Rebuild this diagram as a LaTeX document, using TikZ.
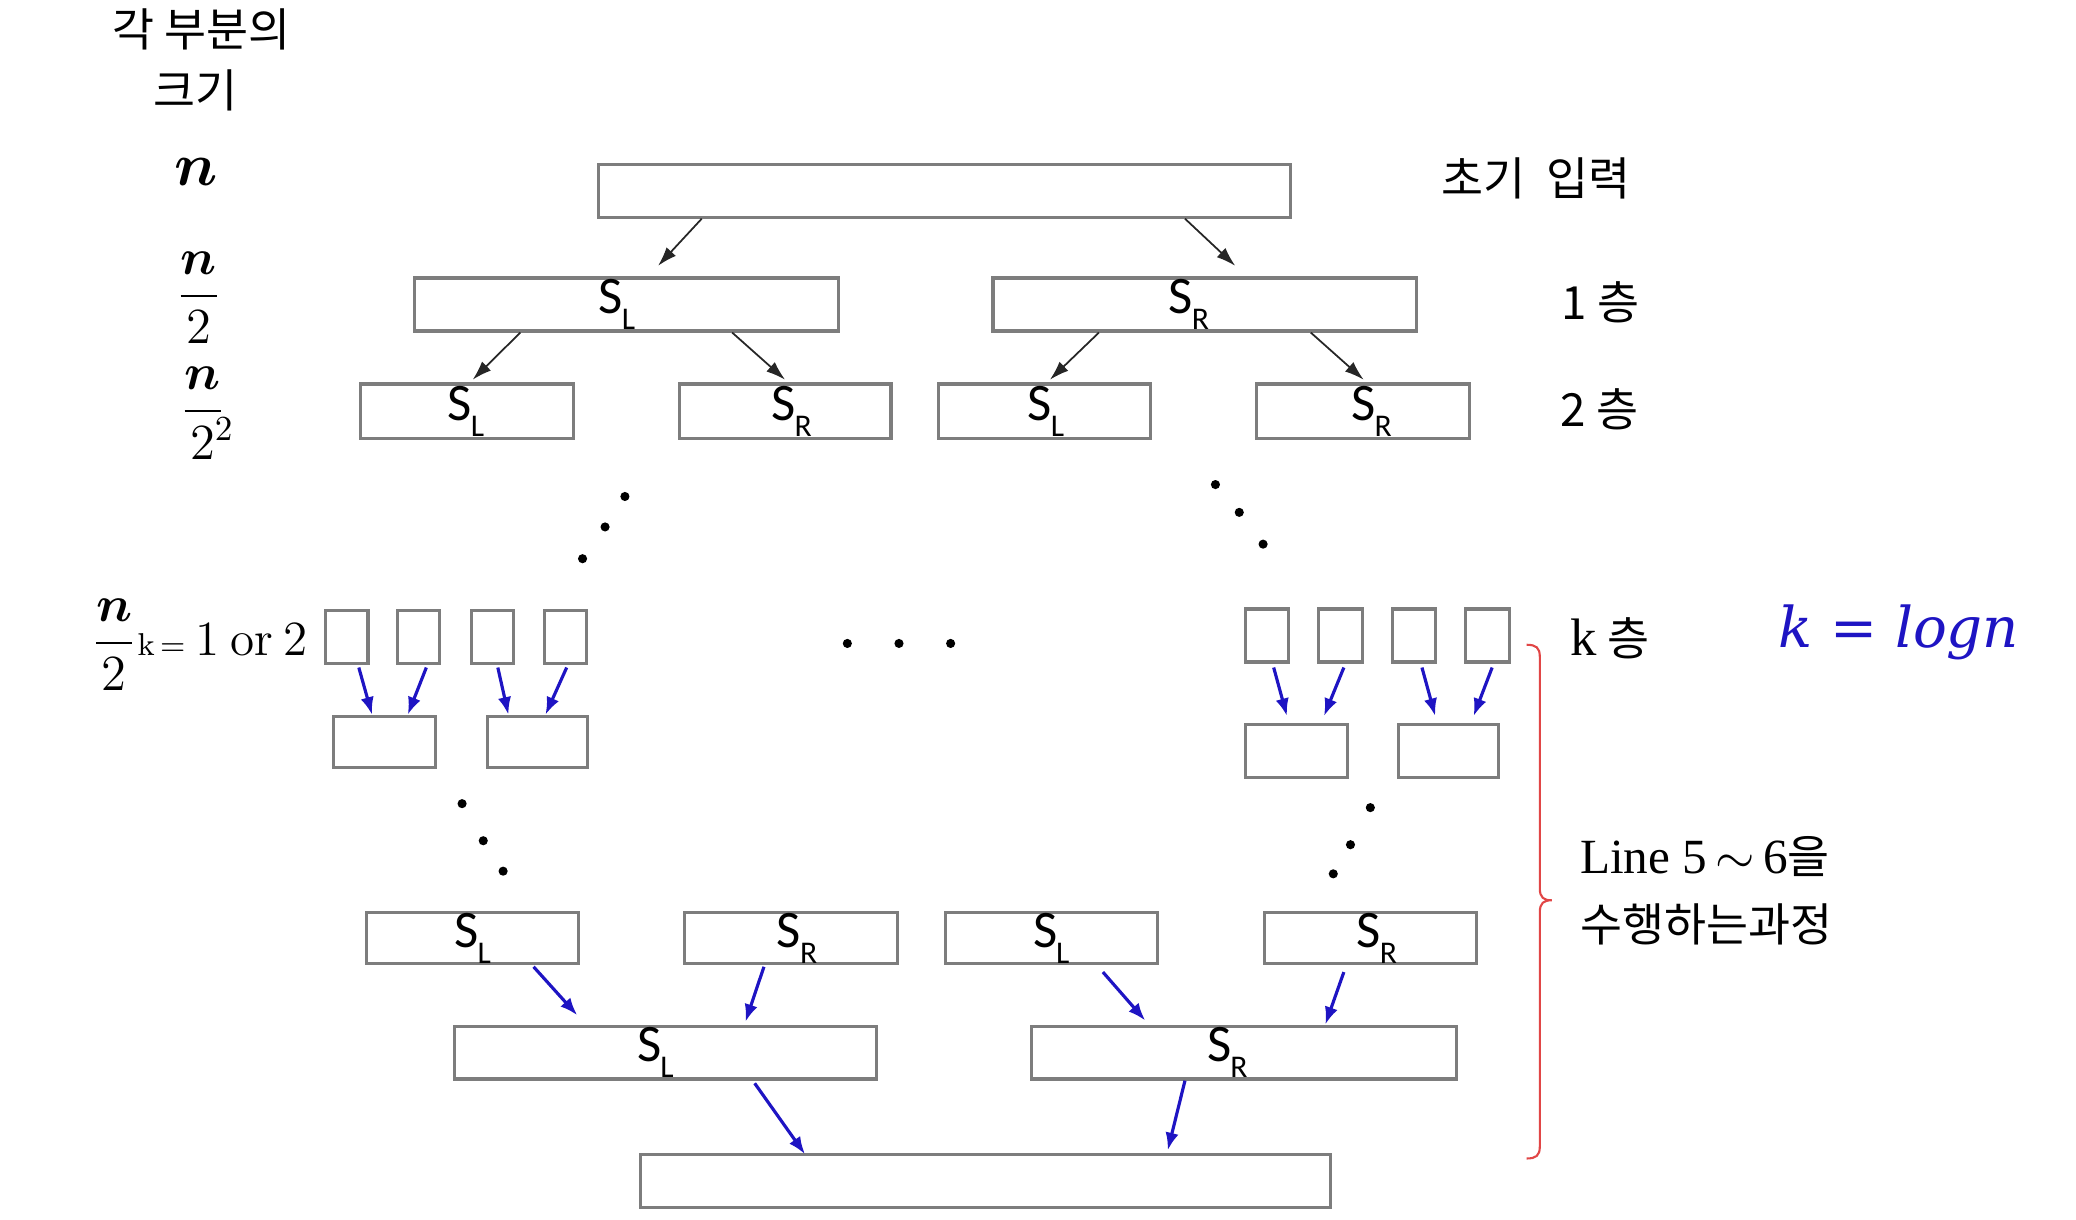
\documentclass[tikz,border=0pt]{standalone}
\usepackage{amsmath}
\usepackage{fontspec}
\newfontfamily\kr{Noto Sans CJK KR}
\newfontfamily\calfnt{Carlito}
\newfontfamily\lserif{Liberation Serif}
\newfontfamily\djserif{DejaVu Serif}
\usetikzlibrary{fit,arrows.meta,calc}
\definecolor{boxgray}{RGB}{125,125,125}
\definecolor{arrblue}{RGB}{30,20,195}
\definecolor{bracered}{RGB}{225,70,70}
\newcommand\SLab{{\calfnt S\kern-0.3pt\raisebox{-4.5pt}{\fontsize{9}{9}\selectfont L}}}
\newcommand\SRab{{\calfnt S\kern-0.3pt\raisebox{-4.5pt}{\fontsize{9}{9}\selectfont R}}}
\begin{document}
\begin{tikzpicture}[x=0.01324cm,y=-0.01324cm,
  bx/.style={draw=boxgray,line width=0.9pt,fill=white,inner sep=0pt},
  lbl/.style={inner sep=0pt,font=\fontsize{15}{15}\selectfont},
  barr/.style={draw=black!85,line width=0.5pt,-{Latex[length=5.5pt,width=3.6pt]}},
  blarr/.style={draw=arrblue,line width=0.9pt,-{Latex[length=5pt,width=3.8pt]}},
  dotn/.style={circle,fill=black,inner sep=0pt,minimum size=2.6pt},
  krt/.style={inner sep=0pt,font=\kr\fontsize{13}{15}\selectfont}]
\useasboundingbox (0,0) rectangle (1568,921);

% boxes
\node[bx,fit={(452,124)(975,164)}] (top) {};
\node[bx,fit={(313,210)(633,250)}] (a1) {};
\node[bx,fit={(750,210)(1070,250)}] (a2) {};
\node[bx,fit={(272,290)(433,331)}] (b1) {};
\node[bx,fit={(513,290)(673,331)}] (b2) {};
\node[bx,fit={(709,290)(869,331)}] (b3) {};
\node[bx,fit={(949,290)(1110,331)}] (b4) {};
\node[bx,fit={(246,461)(278,501)}] (l1) {};
\node[bx,fit={(300,461)(332,501)}] (l2) {};
\node[bx,fit={(356,461)(388,501)}] (l3) {};
\node[bx,fit={(411,461)(443,501)}] (l4) {};
\node[bx,fit={(941,460)(973,500)}] (r1) {};
\node[bx,fit={(996,460)(1029,500)}] (r2) {};
\node[bx,fit={(1052,460)(1084,500)}] (r3) {};
\node[bx,fit={(1107,460)(1140,500)}] (r4) {};
\node[bx,fit={(252,541)(329,580)}] (m1) {};
\node[bx,fit={(368,541)(444,580)}] (m2) {};
\node[bx,fit={(941,547)(1018,587)}] (m3) {};
\node[bx,fit={(1056,547)(1132,587)}] (m4) {};
\node[bx,fit={(277,689)(437,728)}] (c1) {};
\node[bx,fit={(517,689)(678,728)}] (c2) {};
\node[bx,fit={(714,689)(874,728)}] (c3) {};
\node[bx,fit={(955,689)(1115,728)}] (c4) {};
\node[bx,fit={(343,775)(662,815)}] (d1) {};
\node[bx,fit={(779,775)(1100,815)}] (d2) {};
\node[bx,fit={(484,872)(1005,912)}] (fin) {};

% box labels
\node[lbl] (a1t) at (466,230) {\SLab};
\node[lbl] (a2t) at (898,230) {\SRab};
\node[lbl] (b1t) at (352,311) {\SLab};
\node[lbl] (b2t) at (598,311) {\SRab};
\node[lbl] (b3t) at (790,311) {\SLab};
\node[lbl] (b4t) at (1036,311) {\SRab};
\node[lbl] (c1t) at (357,709) {\SLab};
\node[lbl] (c2t) at (602,709) {\SRab};
\node[lbl] (c3t) at (794,709) {\SLab};
\node[lbl] (c4t) at (1040,709) {\SRab};
\node[lbl] (d1t) at (495,795) {\SLab};
\node[lbl] (d2t) at (927,795) {\SRab};

% black arrows
\draw[barr] (530,0 |- top.south) -- ($(497,0 |- a1.north)+(0,-8)$);
\draw[barr] (895,0 |- top.south) -- ($(933,0 |- a2.north)+(0,-8)$);
\draw[barr] (393,0 |- a1.south) -- ($(357,0 |- b1.north)+(0,-2)$);
\draw[barr] (553,0 |- a1.south) -- ($(593,0 |- b2.north)+(0,-2)$);
\draw[barr] (830,0 |- a2.south) -- ($(793,0 |- b3.north)+(0,-2)$);
\draw[barr] (990,0 |- a2.south) -- ($(1030,0 |- b4.north)+(0,-2)$);

% blue arrows
\draw[blarr] ($(271,0 |- l1.south)+(0,2)$) -- (281,0 |- m1.north);
\draw[blarr] ($(322,0 |- l2.south)+(0,2)$) -- (308,0 |- m1.north);
\draw[blarr] ($(376,0 |- l3.south)+(0,2)$) -- (384,0 |- m2.north);
\draw[blarr] ($(428,0 |- l4.south)+(0,2)$) -- (412,0 |- m2.north);
\draw[blarr] ($(962,0 |- r1.south)+(0,3)$) -- ($(972,0 |- m3.north)+(0,-5)$);
\draw[blarr] ($(1015,0 |- r2.south)+(0,3)$) -- ($(1000,0 |- m3.north)+(0,-5)$);
\draw[blarr] ($(1074,0 |- r3.south)+(0,3)$) -- ($(1084,0 |- m4.north)+(0,-5)$);
\draw[blarr] ($(1127,0 |- r4.south)+(0,3)$) -- ($(1113,0 |- m4.north)+(0,-5)$);
\draw[blarr] ($(403,0 |- c1.south)+(0,1)$) -- ($(436,0 |- d1.north)+(0,-7)$);
\draw[blarr] ($(577,0 |- c2.south)+(0,1)$) -- ($(563,0 |- d1.north)+(0,-2)$);
\draw[blarr] ($(833,0 |- c3.south)+(0,5)$) -- ($(865,0 |- d2.north)+(0,-3)$);
\draw[blarr] ($(1015,0 |- c4.south)+(0,5)$) -- (1001,0 |- d2.north);
\draw[blarr] ($(570,0 |- d1.south)+(0,2)$) -- ($(608,0 |- fin.north)+(0,1)$);
\draw[blarr] (895,0 |- d2.south) -- ($(882,0 |- fin.north)+(0,-2)$);

% dots
\node[dotn] (p1) at (472,375) {};
\node[dotn] (p2) at (457,398) {};
\node[dotn] (p3) at (440,422) {};
\node[dotn] (p4) at (918,366) {};
\node[dotn] (p5) at (936,387) {};
\node[dotn] (p6) at (954,411) {};
\node[dotn] (p7) at (640,486) {};
\node[dotn] (p8) at (679,486) {};
\node[dotn] (p9) at (718,486) {};
\node[dotn] (q1) at (349,607) {};
\node[dotn] (q2) at (365,635) {};
\node[dotn] (q3) at (380,658) {};
\node[dotn] (q4) at (1035,610) {};
\node[dotn] (q5) at (1020,638) {};
\node[dotn] (q6) at (1007,660) {};

% left labels
\node[krt] (h1) at (152,22) {각 부분의};
\node[krt] (h2) at (148,68) {크기};
\node[inner sep=0pt,font=\fontsize{16}{16}\selectfont] (s0) at (148,130) {$\boldsymbol{n}$};
\node[inner sep=0pt,font=\fontsize{14}{14}\selectfont] (s1) at (150,225) {$\dfrac{\boldsymbol{n}}{2}$};
\node[inner sep=0pt,font=\fontsize{14}{14}\selectfont] (s2) at (153,312) {$\dfrac{\boldsymbol{n}}{2\rlap{$^{2}$}}$};
\node[inner sep=0pt,anchor=west,font=\fontsize{14}{14}\selectfont] (s3) at (69,487)
  {$\dfrac{\boldsymbol{n}}{2}$\kern0.3pt{\fontsize{9}{9}\selectfont k\kern1.5pt=}\kern3pt{\fontsize{14}{14}\selectfont 1\kern3pt or\kern3pt 2}};

% right labels
\node[krt] (t0) at (1160,135) {초기\hspace{0.45em}입력};
\node[krt] (t1) at (1209,228) {1 층};
\node[krt] (t2) at (1208,309) {2 층};
\node[krt] (tk) at (1216,482) {{\lserif\fontsize{15}{15}\selectfont k} 층};
\node[inner sep=0pt,font=\djserif\itshape\fontsize{16}{16}\selectfont,text=arrblue] (klog) at (1434,478) {k = logn};
\node[inner sep=0pt,anchor=west,font=\fontsize{14}{16}\selectfont] (ln1) at (1193,647)
  {\lserif Line 5\,$\sim$\,6{\kr\fontsize{13}{15}\selectfont 을}};
\node[krt,anchor=west] (ln2) at (1193,698) {수행하는과정};

% red brace
\draw[bracered,line width=0.6pt] (1153,487) .. controls (1160,487) and (1163,489) .. (1163,496)
  -- (1163,671) .. controls (1163,678) and (1166,680) .. (1172,680)
  .. controls (1166,680) and (1163,682) .. (1163,689)
  -- (1163,866) .. controls (1163,873) and (1160,875) .. (1153,875);
\end{tikzpicture}
\end{document}
